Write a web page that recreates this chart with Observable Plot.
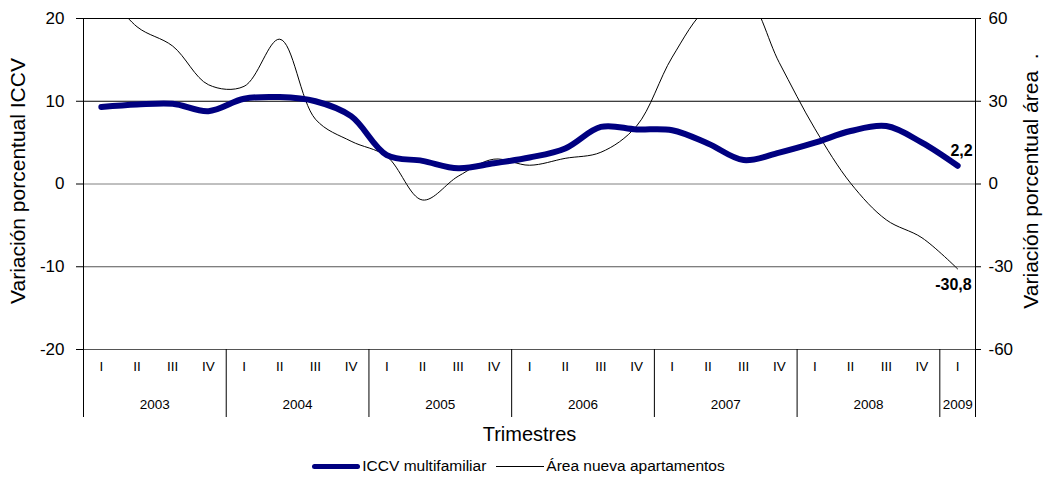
<!DOCTYPE html>
<html>
<head>
<meta charset="utf-8">
<script src="https://cdn.jsdelivr.net/npm/d3@7"></script>
<script src="https://cdn.jsdelivr.net/npm/@observablehq/plot@0.6"></script>
<style>
  html, body { margin: 0; padding: 0; background: #fff; }
  body { width: 1045px; height: 480px; overflow: hidden; font-family: "Liberation Sans", Arial, sans-serif; }
  #chart svg { display: block; }
  .legend { position: relative; height: 28px; display: flex; justify-content: center; align-items: center; font-size: 15.5px; color: #000; margin-left: -8px; }
  .legend .item { display: flex; align-items: center; margin: 0 5px; }
  .legend .sw { display: inline-block; width: 48px; margin-right: 2px; }
  .legend .thick { height: 5px; background: #000080; border-radius: 3px; }
  .legend .thin { height: 1px; background: #000; }
</style>
</head>
<body>
<div id="chart"></div>
<div class="legend">
  <span class="item"><span class="sw thick"></span>ICCV multifamiliar</span>
  <span class="item"><span class="sw thin"></span>Área nueva apartamentos</span>
</div>
<script>
// ---- Data ----
const quarterNames = ["I", "II", "III", "IV"];
const years = [2003, 2004, 2005, 2006, 2007, 2008, 2009];
// quarterly values 2003-I .. 2009-I
const iccv = [9.3, 9.6, 9.7, 8.8, 10.3, 10.5, 10.0, 8.2, 3.5, 2.8, 1.9, 2.5,
              3.2, 4.3, 6.9, 6.6, 6.5, 4.9, 2.9, 3.8, 5.0, 6.4, 7.0, 5.0, 2.2];
const areaNueva = [72, 57, 50, 36, 35.4, 52.5, 23.5, 15.5, 10, -5.8, 2.8, 9.0,
                   6.8, 9.3, 11.5, 21, 46, 64, 69, 44, 20, 0.3, -13, -19.5, -30.8];
const leftTicks = [-20, -10, 0, 10, 20];
const rightTicks = [-60, -30, 0, 30, 60];
const ratio = 3; // right axis / left axis

// ---- Build table ----
const rows = iccv.map((v, i) => ({
  i,
  quarter: quarterNames[i % 4],
  year: years[Math.floor(i / 4)],
  iccv: v,
  area: areaNueva[i]
}));
const yearGroups = years.map(y => {
  const idx = rows.filter(r => r.year === y).map(r => r.i);
  return {year: y, start: d3.min(idx) - 0.5, end: d3.max(idx) + 0.5, mid: (d3.min(idx) + d3.max(idx)) / 2};
});
const boundaries = [yearGroups[0].start, ...yearGroups.map(g => g.end)];
const last = rows[rows.length - 1];
const fmt = v => String(v).replace(".", ",");

const chart = Plot.plot({
  width: 1045,
  height: 452,
  marginLeft: 83,
  marginRight: 70,
  marginTop: 18,
  marginBottom: 103,
  style: {fontFamily: "Liberation Sans, Arial, sans-serif", background: "#fff", color: "#000"},
  x: {domain: [-0.5, rows.length - 0.5], axis: null},
  y: {domain: [leftTicks[0], leftTicks[leftTicks.length - 1]], axis: null},
  marks: [
    // horizontal grid
    Plot.ruleY(leftTicks, {stroke: d => d === 0 ? "#808080" : (d < 0 ? "#555" : "#000"), strokeWidth: 1}),
    // axis lines
    Plot.ruleX([boundaries[0], boundaries[boundaries.length - 1]], {stroke: "#000"}),
    // left axis
    Plot.axisY({anchor: "left", ticks: leftTicks, tickSize: 7, tickPadding: 12, fontSize: 17, tickFormat: d => String(d), label: null}),
    // right axis
    Plot.axisY({anchor: "right", ticks: rightTicks.map(v => v / ratio), tickFormat: v => String(Math.round(v * ratio)), tickSize: 5, tickPadding: 8, fontSize: 17, label: null}),
    // year separators below plot
    Plot.axisX({ticks: boundaries, tickSize: 68, tickFormat: () => "", label: null}),
    // quarter labels
    Plot.text(rows, {x: "i", text: "quarter", frameAnchor: "bottom", dy: 21, fontSize: 13.5}),
    // year labels
    Plot.text(yearGroups, {x: "mid", text: d => String(d.year), frameAnchor: "bottom", dy: 59, fontSize: 13.5}),
    // axis titles
    Plot.text(["Trimestres"], {frameAnchor: "bottom", dy: 91, fontSize: 20}),
    Plot.text(["Variación porcentual ICCV"], {frameAnchor: "left", textAnchor: "middle", dx: -65, dy: -3, rotate: -90, fontSize: 21}),
    Plot.text(["Variación porcentual área  ."], {frameAnchor: "right", textAnchor: "middle", dx: 56, dy: -3, rotate: -90, fontSize: 21}),
    // area line (right axis)
    Plot.line(rows, {x: "i", y: d => d.area / ratio, stroke: "#000", strokeWidth: 1, curve: "catmull-rom", clip: true}),
    // ICCV line
    Plot.line(rows, {x: "i", y: "iccv", stroke: "#000080", strokeWidth: 6, curve: "catmull-rom", strokeLinecap: "round", strokeLinejoin: "round"}),
    // end labels
    Plot.text([last], {x: "i", y: "iccv", text: d => fmt(d.iccv), textAnchor: "end", dx: 15, dy: -15, fontSize: 16, fontWeight: "bold"}),
    Plot.text([last], {x: "i", y: d => d.area / ratio, text: d => fmt(d.area), textAnchor: "end", dx: 14, dy: 16, fontSize: 16, fontWeight: "bold"})
  ]
});
document.getElementById("chart").appendChild(chart);
</script>
</body>
</html>
